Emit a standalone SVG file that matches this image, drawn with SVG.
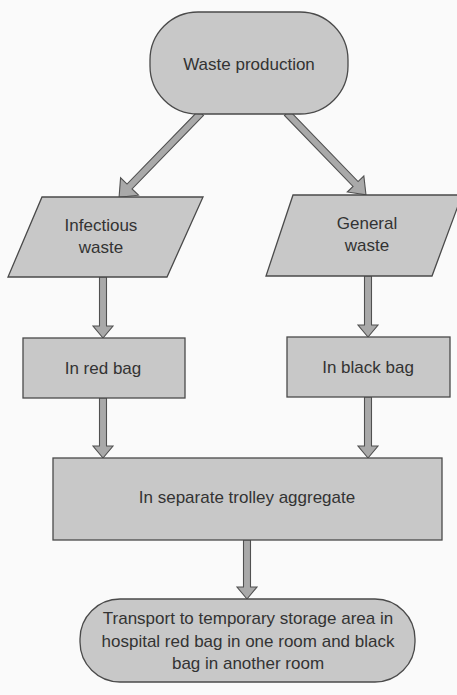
<svg xmlns="http://www.w3.org/2000/svg" width="457" height="695" viewBox="0 0 457 695">
<style>
.node{fill:#c8c8c8;stroke:#4a4a4a;stroke-width:1.3}
.arr{fill:#a9a9a9;stroke:#505050;stroke-width:1.1;stroke-linejoin:miter}
text{font-family:"Liberation Sans",Arial,sans-serif;font-size:17px;fill:#333;text-anchor:middle}
</style>
<rect width="457" height="695" fill="#fafafa"/>
<g id="connectors">
<polygon class="arr" transform="translate(201,113) rotate(134.2)" points="0,-3.5 102.5,-3.5 102.5,-12.5 117.5,0 102.5,12.5 102.5,3.5 0,3.5"/>
<polygon class="arr" transform="translate(287,113) rotate(46)" points="0,-3.5 98.7,-3.5 98.7,-11.5 113.7,0 98.7,11.5 98.7,3.5 0,3.5"/>
<polygon class="arr" points="99.5,277 106.5,277 106.5,326 113,326 103,338 93,326 99.5,326"/>
<polygon class="arr" points="364.5,276 371.5,276 371.5,325 378,325 368,337 358,325 364.5,325"/>
<polygon class="arr" points="99.5,398 106.5,398 106.5,446 113,446 103,458 93,446 99.5,446"/>
<polygon class="arr" points="364.5,397 371.5,397 371.5,446 378,446 368,458 358,446 364.5,446"/>
<polygon class="arr" points="243.5,540 250.5,540 250.5,587 257,587 247,599 237,587 243.5,587"/>
</g>
<g id="n-waste-production">
<rect class="node" x="150" y="12" width="198" height="102" rx="48" ry="48"/>
<text x="249" y="70">Waste production</text>
</g>
<g id="n-infectious">
<polygon class="node" points="42,197 203,197 167,277 8,277"/>
<text x="101" y="231">Infectious</text>
<text x="101" y="253">waste</text>
</g>
<g id="n-general">
<polygon class="node" points="293,195 462,195 432,276 266,276"/>
<text x="367" y="229">General</text>
<text x="367" y="251">waste</text>
</g>
<g id="n-red-bag">
<rect class="node" x="23" y="338" width="162" height="60"/>
<text x="103" y="374">In red bag</text>
</g>
<g id="n-black-bag">
<rect class="node" x="287" y="337" width="163" height="60"/>
<text x="368" y="373">In black bag</text>
</g>
<g id="n-trolley">
<rect class="node" x="53" y="458" width="389" height="82"/>
<text x="247" y="503">In separate trolley aggregate</text>
</g>
<g id="n-transport">
<rect class="node" x="80" y="599" width="335" height="83" rx="40" ry="40"/>
<text x="248" y="624">Transport to temporary storage area in</text>
<text x="248" y="647">hospital red bag in one room and black</text>
<text x="248" y="669">bag in another room</text>
</g>
</svg>
